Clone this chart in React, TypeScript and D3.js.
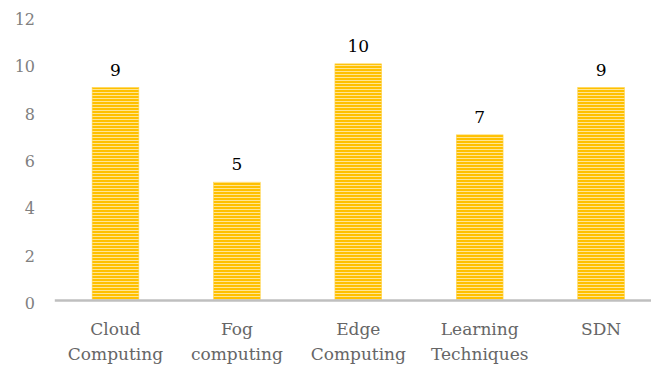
import React from "react";
import * as d3 from "d3";

const categories: string[][] = [
  ["Cloud", "Computing"],
  ["Fog", "computing"],
  ["Edge", "Computing"],
  ["Learning", "Techniques"],
  ["SDN"],
];
const values: number[] = [9, 5, 10, 7, 9];
const yTicks: number[] = [0, 2, 4, 6, 8, 10, 12];

const W = 651;
const H = 367;
const FONT = "'DejaVu Serif', serif";

export default function App() {
  const x = d3
    .scaleBand<number>()
    .domain(d3.range(values.length))
    .range([54.8, 661.8])
    .paddingInner(0.615)
    .paddingOuter(0.3075);
  const y = d3.scaleLinear().domain([0, 12]).range([300.5, 16.5]);

  return (
    <svg
      width={W}
      height={H}
      style={{ position: "fixed", left: 0, top: 0, background: "#fff" }}
    >
      <defs>
        <pattern id="stripes" patternUnits="userSpaceOnUse" width={6} height={3}>
          <rect width={6} height={3} fill="#FFC000" />
          <rect y={2} width={6} height={1} fill="#FFE593" />
        </pattern>
      </defs>
      {yTicks.map((t) => (
        <text
          key={t}
          x={35}
          y={y(t) + 3}
          textAnchor="end"
          dominantBaseline="central"
          fontFamily={FONT}
          fontSize={16}
          fill="#808080"
        >
          {t}
        </text>
      ))}
      {values.map((v, i) => (
        <g key={i}>
          <rect
            x={x(i)}
            y={y(v)}
            width={x.bandwidth()}
            height={y(0) - y(v)}
            fill="url(#stripes)"
            stroke="#FFD54F"
            strokeWidth={0.6}
          />
          <text
            x={(x(i) as number) + x.bandwidth() / 2}
            y={y(v) - 12}
            textAnchor="middle"
            fontFamily={FONT}
            fontSize={17}
            fill="#000"
          >
            {v}
          </text>
        </g>
      ))}
      <line x1={54.8} x2={661.8} y1={y(0)} y2={y(0)} stroke="#BFBFBF" strokeWidth={2.5} />
      {categories.map((lines, i) => (
        <text
          key={i}
          textAnchor="middle"
          fontFamily={FONT}
          fontSize={17}
          fill="#666666"
        >
          {lines.map((l, j) => (
            <tspan key={j} x={(x(i) as number) + x.bandwidth() / 2} y={335 + j * 25}>
              {l}
            </tspan>
          ))}
        </text>
      ))}
    </svg>
  );
}
